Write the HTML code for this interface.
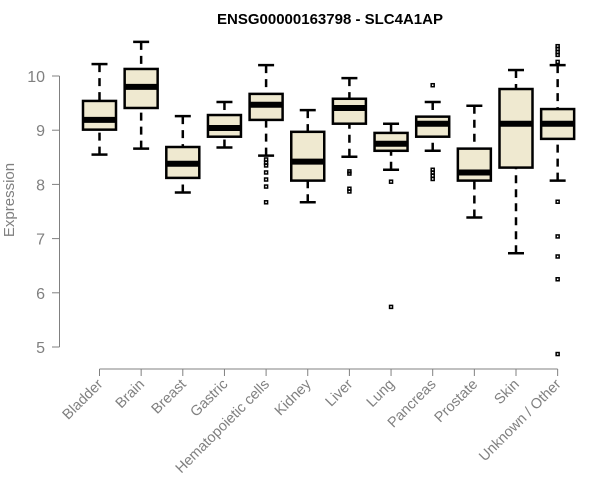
<!DOCTYPE html>
<html><head><meta charset="utf-8"><style>body{margin:0;background:#fff}svg{display:block}text{font-family:"Liberation Sans",sans-serif}</style></head>
<body>
<svg id="c" width="600" height="500"></svg>
<script>
const categories=["Bladder","Brain","Breast","Gastric","Hematopoietic cells","Kidney","Liver","Lung","Pancreas","Prostate","Skin","Unknown / Other"];
const whiskerLow=[8.55,8.66,7.85,8.68,8.53,7.67,8.51,8.27,8.62,7.39,6.73,8.07];
const q1=[9.01,9.41,8.12,8.88,9.19,8.07,9.12,8.62,8.88,8.07,8.31,8.84];
const medians=[9.19,9.8,8.38,9.04,9.47,8.42,9.41,8.75,9.12,8.22,9.12,9.12];
const q3=[9.54,10.13,8.69,9.28,9.67,8.97,9.58,8.95,9.25,8.66,9.76,9.39];
const whiskerHigh=[10.22,10.63,9.26,9.52,10.2,9.37,9.96,9.12,9.52,9.45,10.11,10.2];
const outliers=[[],[],[],[],[8.46,8.40,8.35,8.22,8.09,7.96,7.67],[],[8.24,8.2,7.92,7.87],[8.05,5.74],[9.83,8.27,8.22,8.16,8.1],[],[],[10.55,10.5,10.44,10.39,10.26,7.68,7.04,6.67,6.25,4.87]];
const yTicks=[5,6,7,8,9,10];
const ns="http://www.w3.org/2000/svg",svg=document.getElementById('c');
const y=v=>347-(v-5)*54.2;
const x=i=>99.5+i*41.65;
function el(t,a,p){const e=document.createElementNS(ns,t);for(const k in a)e.setAttribute(k,a[k]);(p||svg).appendChild(e);return e;}
const title=el('text',{x:330,y:24,'text-anchor':'middle','font-size':15,'font-weight':'bold',fill:'#000'});title.textContent="ENSG00000163798 - SLC4A1AP";


const yax=el('g',{});


el('line',{x1:59.5,x2:59.5,y1:y(10),y2:y(5),stroke:'#808080'},yax);
yTicks.forEach(t=>{el('line',{x1:52,x2:59.5,y1:y(t),y2:y(t),stroke:'#808080'},yax);const tx=el('text',{x:45,y:y(t)+6,'text-anchor':'end','font-size':16,fill:'#808080'},yax);tx.textContent=t;});
const yt=el('text',{transform:'translate(14,200) rotate(-90)','text-anchor':'middle','font-size':15,fill:'#808080'});yt.textContent="Expression";


const xax=el('g',{});


el('line',{x1:x(0),x2:x(11),y1:369,y2:369,stroke:'#808080'},xax);
categories.forEach((c,i)=>{
 el('line',{x1:x(i),x2:x(i),y1:369,y2:376,stroke:'#808080'},xax);
 const t=el('text',{transform:`translate(${x(i)+4},${385}) rotate(-45)`,'text-anchor':'end','font-size':14.5,fill:'#808080'},xax);t.textContent=c;
 const g=el('g',{});
 
 
 const cx=x(i);
 el('line',{x1:cx,x2:cx,y1:y(whiskerHigh[i]),y2:y(q3[i]),stroke:'#000','stroke-width':2.5,'stroke-dasharray':'8,6'},g);
 el('line',{x1:cx,x2:cx,y1:y(whiskerLow[i]),y2:y(q1[i]),stroke:'#000','stroke-width':2.5,'stroke-dasharray':'8,6'},g);
 el('line',{x1:cx-8,x2:cx+8,y1:y(whiskerHigh[i]),y2:y(whiskerHigh[i]),stroke:'#000','stroke-width':2.5},g);
 el('line',{x1:cx-8,x2:cx+8,y1:y(whiskerLow[i]),y2:y(whiskerLow[i]),stroke:'#000','stroke-width':2.5},g);
 el('rect',{x:cx-16.5,y:y(q3[i]),width:33,height:y(q1[i])-y(q3[i]),fill:'#efe9d0',stroke:'#000','stroke-width':2.5},g);
 el('line',{x1:cx-16.5,x2:cx+16.5,y1:y(medians[i]),y2:y(medians[i]),stroke:'#000','stroke-width':6},g);
 outliers[i].forEach(o=>el('rect',{x:cx-1.5,y:y(o)-1.5,width:3,height:3,fill:'none',stroke:'#000','stroke-width':1.5},g));
});
</script>
</body></html>
